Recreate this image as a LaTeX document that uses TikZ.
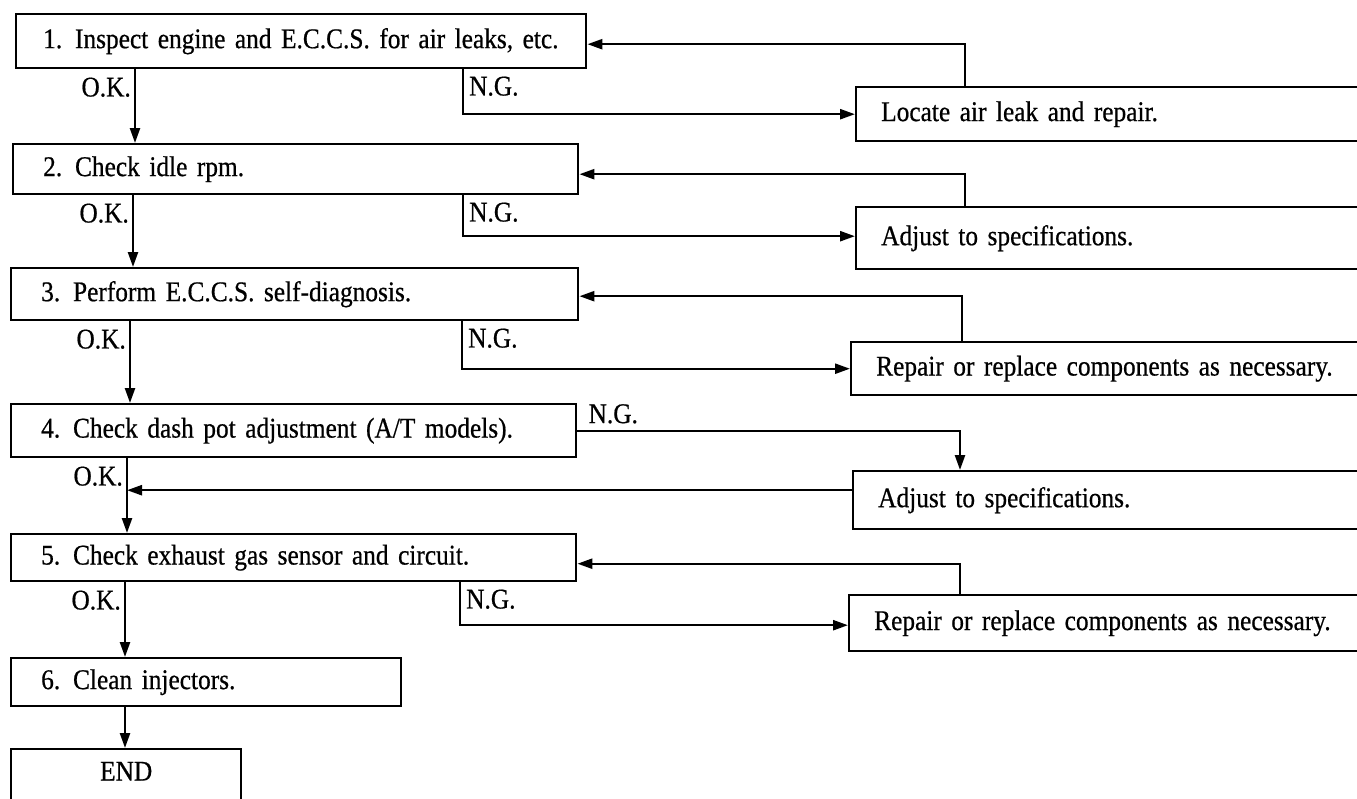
\documentclass[tikz,border=0pt]{standalone}
\usepackage{fontspec}
\setmainfont{Liberation Serif}[FakeStretch=0.89, WordSpace=0.8, FakeBold=0.6]
\usetikzlibrary{arrows.meta}
\tikzset{
  txt/.style={font=\fontsize{28.5}{32}\selectfont},
  lbox/.style={draw, line width=2.4pt, rectangle, anchor=north west, inner xsep=0pt, inner ysep=0pt, txt},
  rbox/.style={draw, line width=2.4pt, rectangle, anchor=north west, minimum width=560pt, text width=560pt, inner xsep=0pt, align=left, inner ysep=0pt, txt},
  arr/.style={line width=2.4pt, -{Triangle[length=15pt,width=10pt]}},
  lab/.style={txt, inner sep=0pt},
}
\begin{document}
\begin{tikzpicture}[x=1pt,y=-1pt]
\useasboundingbox (0,0) rectangle (1357,798);
% left boxes
\node[lbox, minimum width=570pt, minimum height=54pt, text width=570pt, align=left] (b1) at (15,13) {\hspace*{27pt}1.\hspace{0.45em}Inspect engine and E.C.C.S. for air leaks, etc.};
\node[lbox, minimum width=565pt, minimum height=50pt, text width=565pt, align=left] (b2) at (12,143) {\hspace*{30pt}2.\hspace{0.45em}Check idle rpm.};
\node[lbox, minimum width=567pt, minimum height=52pt, text width=567pt, align=left] (b3) at (10,267) {\hspace*{30pt}3.\hspace{0.45em}Perform E.C.C.S. self-diagnosis.};
\node[lbox, minimum width=565pt, minimum height=53pt, text width=565pt, align=left] (b4) at (10,403) {\hspace*{30pt}4.\hspace{0.45em}Check dash pot adjustment (A/T models).};
\node[lbox, minimum width=565pt, minimum height=47pt, text width=565pt, align=left] (b5) at (10,533) {\hspace*{30pt}5.\hspace{0.45em}Check exhaust gas sensor and circuit.};
\node[lbox, minimum width=390pt, minimum height=48pt, text width=390pt, align=left] (b6) at (10,657) {\hspace*{30pt}6.\hspace{0.45em}Clean injectors.};
\node[lbox, minimum width=230pt, minimum height=62pt, text width=230pt, align=center, text depth=18pt] (e) at (10,748) {END};
% right boxes
\node[rbox, minimum height=54pt] (r1) at (855,86) {\hspace*{25pt}Locate air leak and repair.};
\node[rbox, minimum height=62pt] (r2) at (855,206) {\hspace*{25pt}Adjust to specifications.};
\node[rbox, minimum height=53pt] (r3) at (850,341) {\hspace*{25pt}Repair or replace components as necessary.};
\node[rbox, minimum height=58pt] (r4) at (852,470) {\hspace*{25pt}Adjust to specifications.};
\node[rbox, minimum height=56pt] (r5) at (848,594) {\hspace*{25pt}Repair or replace components as necessary.};
% OK arrows
\draw[arr] (135,0 |- b1.south) coordinate (ok1) -- (135,0 |- b2.north);
\draw[arr] (133,0 |- b2.south) coordinate (ok2) -- (133,0 |- b3.north);
\draw[arr] (130,0 |- b3.south) coordinate (ok3) -- (130,0 |- b4.north);
\draw[arr] (127,0 |- b4.south) coordinate (ok4) -- (127,0 |- b5.north);
\draw[arr] (125,0 |- b5.south) coordinate (ok5) -- (125,0 |- b6.north);
\draw[arr] (125,0 |- b6.south) -- (125,0 |- e.north);
% OK labels
\foreach \c in {ok1,ok2,ok3,ok4,ok5}
  \node[lab, anchor=north east] at ([xshift=-4pt,yshift=-8pt]\c) {O.K.};
% NG branches
\draw[arr] (463,0 |- b1.south) coordinate (ng1) |- (r1.west);
\draw[arr] (463,0 |- b2.south) coordinate (ng2) |- ([yshift=2pt]r2.west);
\draw[arr] (462,0 |- b3.south) coordinate (ng3) |- (r3.west);
\draw[arr] (460,0 |- b5.south) coordinate (ng5) |- ([yshift=-2pt]r5.west);
\foreach \c in {ng1,ng2,ng3,ng5}
  \node[lab, anchor=north west] at ([xshift=6pt,yshift=-7pt]\c) {N.G.};
\coordinate (ng4) at (b4.east);
\draw[arr] (ng4) -| (960,0 |- r4.north);
\node[lab, anchor=south west] at ([xshift=11pt,yshift=7pt]ng4) {N.G.};
% feedback
\draw[arr] (965,0 |- r1.north) |- ([yshift=-3pt]b1.east);
\draw[arr] (965,0 |- r2.north) |- ([yshift=-5pt]b2.east);
\draw[arr] (962,0 |- r3.north) |- ([yshift=-2pt]b3.east);
\coordinate (f4) at ([yshift=10pt]r4.west);
\draw[arr] (f4) -- (127,0 |- f4);
\draw[arr] (960,0 |- r5.north) |- ([yshift=-6pt]b5.east);
\end{tikzpicture}
\end{document}
